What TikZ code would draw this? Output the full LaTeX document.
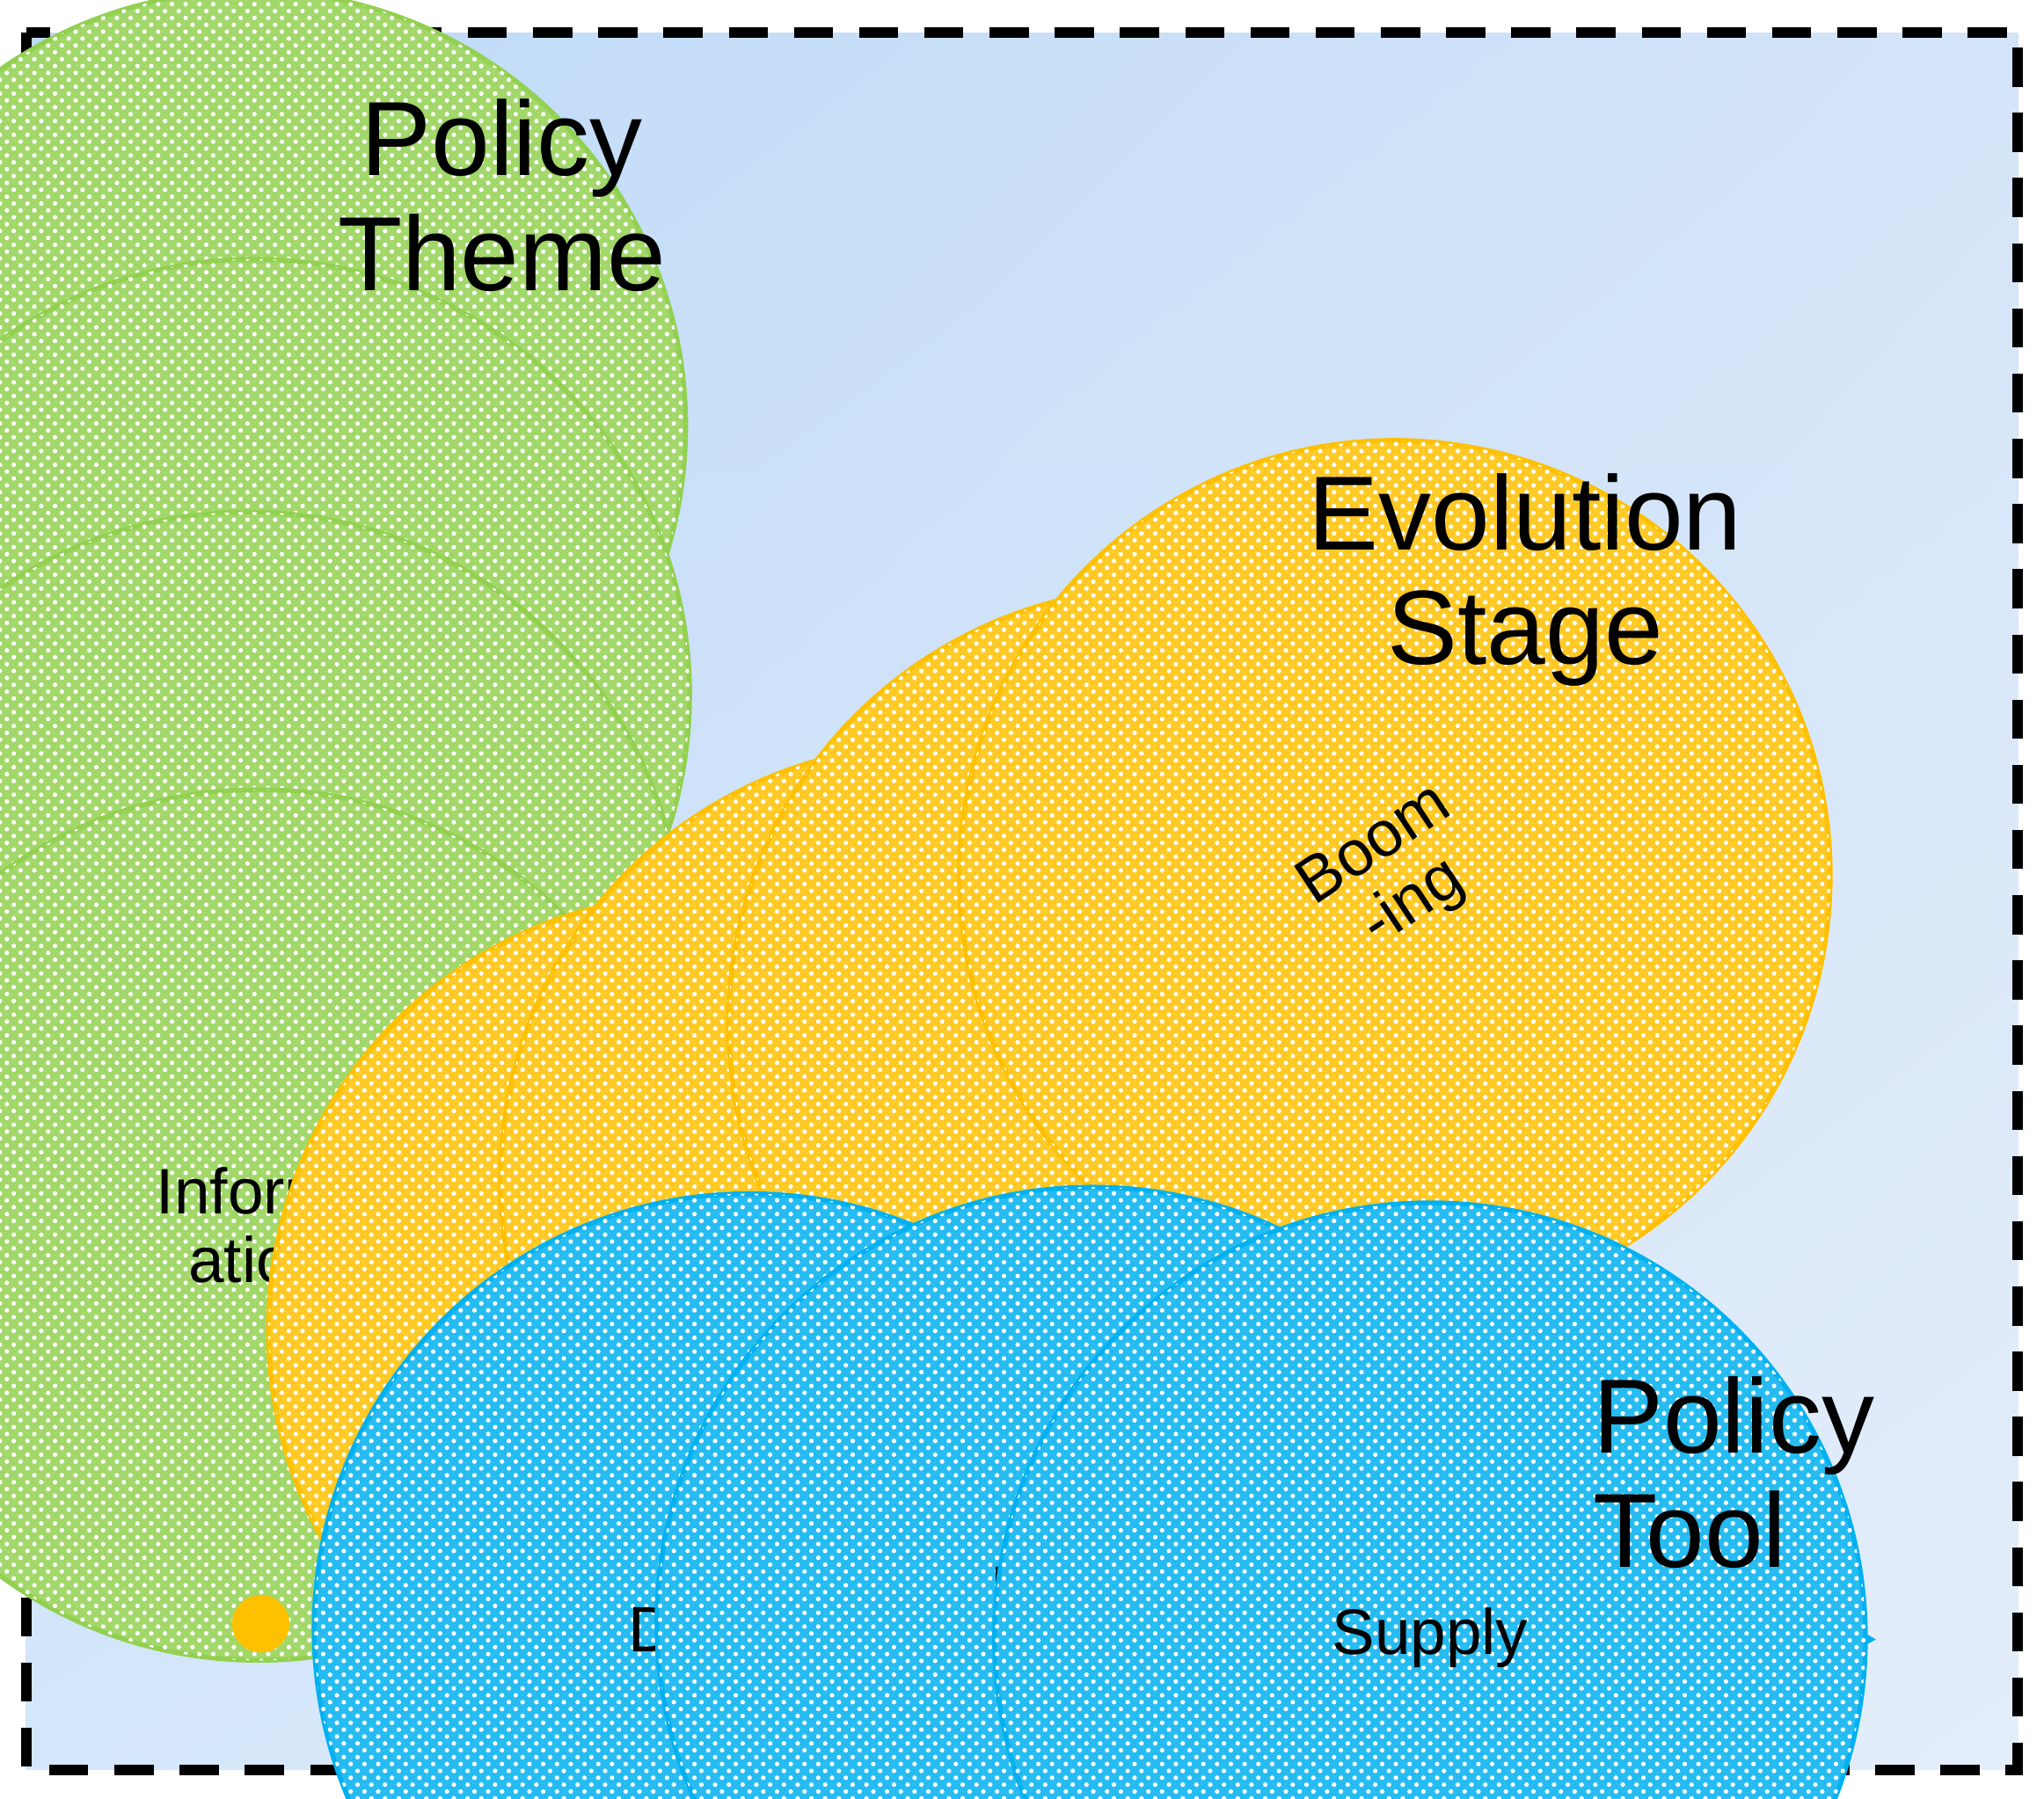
\documentclass[tikz,border=0pt]{standalone}
\usepackage{fontspec}
\setmainfont{Liberation Sans}
\usetikzlibrary{arrows.meta,patterns,shadings}
\definecolor{gr}{HTML}{92D050}
\definecolor{og}{HTML}{FFC000}
\definecolor{bl}{HTML}{00B0F0}
\definecolor{bgul}{RGB}{190,218,248}
\definecolor{bglr}{RGB}{228,238,250}
\definecolor{bgur}{RGB}{212,228,248}
\definecolor{bgll}{RGB}{212,230,250}
\begin{document}
\begin{tikzpicture}[x=0.01cm,y=-0.01cm,
  circ/.style={circle,minimum size=190,inner sep=0,align=center,font=\fontsize{14}{15}\selectfont,draw=#1,line width=1pt,fill=#1!85!white,postaction={pattern=crosshatch dots,pattern color=white}},
  ax/.style={line width=0.13cm,draw=#1,-{Triangle[width=0.56cm,length=0.55cm]}},
  lab/.style={font=\fontsize{23}{25}\selectfont,align=center}]
\useasboundingbox (0,0) rectangle (1568,1380);
\fill[bgul!50!bglr] (20,25) rectangle (1548,1358);
\shade[upper left=bgul,lower right=bglr,upper right=bgur,lower left=bgll] (20,25) rectangle (1548,1358);
\draw[line width=0.08cm,dash pattern=on 0.3cm off 0.2cm] (20,25) rectangle (1548,1358);
\coordinate (o) at (200,1246);
\coordinate (gt) at (193,80);
\coordinate (ot) at (1265,538);
\coordinate (bt) at (1440,1258);
\draw[ax=gr] (o) -- (gt);
\draw[ax=og] (o) -- (ot);
\draw[ax=bl] (o) -- (bt);
\node[circ=gr] (t1) at (192,327) {Techno-\\logical};
\node[circ=gr] (t2) at (195,533) {Coord-\\inated};
\node[circ=gr] (t3) at (190,727) {Service};
\node[circ=gr] (t4) at (198,940) {Inform-\\ation};
\node[circ=og,rotate=33.6] (e1) at (540,1020) {Slow};
\node[circ=og,rotate=33.6] (e2) at (718,905) {Rapid};
\node[circ=og,rotate=33.6] (e3) at (893,785) {Deep-\\ening};
\node[circ=og,rotate=33.6] (e4) at (1070,672) {Boom\\-ing};
\node[circ=bl] (p1) at (575,1250) {Demand};
\node[circ=bl] (p2) at (838,1245) {Enviro-\\nment};
\node[circ=bl] (p3) at (1097,1257) {Supply};
\fill[og] (o) circle (22);
\node[lab] (l1) at (385,150) {Policy\\Theme};
\node[lab] (l2) at (1170,445) {Evolution\\Stage};
\node[lab,align=left] (l3) at (1330,1130) {Policy\\Tool};
\end{tikzpicture}
\end{document}
